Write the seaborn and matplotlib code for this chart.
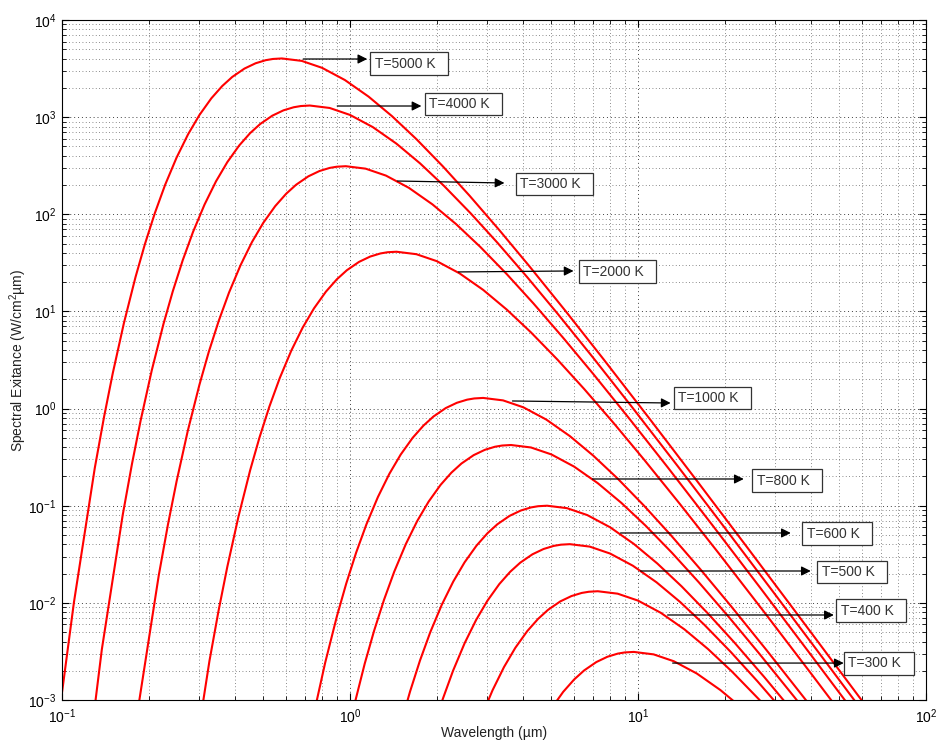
import pandas as pd
import matplotlib
matplotlib.use('Agg')
import matplotlib.pyplot as plt
import seaborn as sns
from matplotlib.ticker import LogLocator, NullFormatter

# Blackbody curves: wavelength (um) and spectral exitance (W/cm^2/um)
temps = [5000, 4000, 3000, 2000, 1000, 800, 600, 500, 400, 300]

wl_5000 = [0.09, 0.10, 0.11, 0.13, 0.14, 0.15, 0.164, 0.18, 0.194, 0.21, 0.228, 0.25, 0.274, 0.30, 0.33,
           0.36, 0.39, 0.43, 0.47, 0.51, 0.54, 0.58, 0.68, 0.80, 0.96, 1.16, 1.40, 1.70, 2.10, 2.60,
           3.30, 4.20, 5.60, 7.60, 11.0, 16.0, 24.0, 36.0, 60.0]
ex_5000 = [8.24e-5, 1.19e-3, 0.0101, 0.2455, 0.8241, 2.297, 7.561, 22.58, 49.22, 102.5, 200.5, 384.0,
           665.8, 1051, 1562, 2090, 2592, 3161, 3585, 3859, 3971, 4020, 3793, 3218, 2410, 1627, 1022,
           594.3, 312.0, 155.6, 68.71, 29.10, 10.12, 3.206, 0.777, 0.1811, 0.0369, 7.44e-3, 9.80e-4]

wl_4000 = [0.1125, 0.1375, 0.1625, 0.175, 0.1875, 0.205, 0.225, 0.2425, 0.2625, 0.285, 0.3125, 0.3425,
           0.375, 0.4125, 0.45, 0.4875, 0.5375, 0.5875, 0.6375, 0.675, 0.725, 0.85, 1.0, 1.2, 1.45,
           1.75, 2.125, 2.625, 3.25, 4.125, 5.25, 7.0, 9.5, 13.75, 20.0, 30.0, 45.0, 75.0]
ex_4000 = [2.70e-5, 3.313e-3, 0.0804, 0.2700, 0.7525, 2.478, 7.398, 16.13, 33.59, 65.70, 125.8, 218.2,
           344.4, 511.7, 684.7, 849.3, 1036, 1175, 1264, 1301, 1317, 1243, 1054, 789.7, 533.1, 334.7,
           194.7, 102.2, 50.97, 22.51, 9.533, 3.314, 1.050, 0.2546, 0.05933, 0.01209, 2.436e-3, 3.21e-4]

wl_3000 = [0.1833, 0.2167, 0.2333, 0.25, 0.2733, 0.30, 0.3233, 0.35, 0.38, 0.4167, 0.4567, 0.50, 0.55,
           0.60, 0.65, 0.7167, 0.7833, 0.85, 0.90, 0.9667, 1.133, 1.333, 1.60, 1.933, 2.333, 2.833,
           3.50, 4.333, 5.50, 7.0, 9.333, 12.67, 18.33, 26.67, 40.0, 60.0]
ex_3000 = [7.86e-4, 0.01909, 0.06408, 0.1786, 0.5879, 1.756, 3.828, 7.972, 15.59, 29.86, 51.77, 81.74,
           121.4, 162.5, 201.5, 245.8, 278.8, 300.1, 308.8, 312.6, 294.9, 250.2, 187.4, 126.5, 79.44,
           46.21, 24.26, 12.10, 5.342, 2.263, 0.7865, 0.2493, 0.06042, 0.01408, 2.869e-3, 5.78e-4]

wl_2000 = [0.275, 0.325, 0.35, 0.375, 0.41, 0.45, 0.485, 0.525, 0.57, 0.625, 0.685, 0.75, 0.825, 0.90,
           0.975, 1.075, 1.175, 1.275, 1.35, 1.45, 1.70, 2.0, 2.4, 2.9, 3.5, 4.25, 5.25, 6.5, 8.25,
           10.5, 14.0, 19.0, 27.5, 40.0, 60.0]
ex_2000 = [1.035e-4, 2.514e-3, 8.438e-3, 0.02352, 0.07743, 0.2312, 0.5040, 1.050, 2.053, 3.932, 6.817,
           10.76, 15.99, 21.40, 26.54, 32.37, 36.71, 39.51, 40.67, 41.16, 38.83, 32.95, 24.68, 16.66,
           10.46, 6.085, 3.194, 1.593, 0.7034, 0.2979, 0.1036, 0.03283, 7.955e-3, 1.854e-3, 3.78e-4]

wl_1000 = [0.65, 0.70, 0.75, 0.82, 0.90, 0.97, 1.05, 1.14, 1.25, 1.37, 1.5, 1.65, 1.8, 1.95, 2.15, 2.35,
           2.55, 2.70, 2.9, 3.4, 4.0, 4.8, 5.8, 7.0, 8.5, 10.5, 13.0, 16.5, 21.0, 28.0, 38.0, 55.0]
ex_1000 = [7.86e-5, 2.637e-4, 7.35e-4, 2.420e-3, 7.226e-3, 0.01575, 0.03281, 0.06416, 0.1229, 0.2131,
           0.3364, 0.4997, 0.6688, 0.8294, 1.012, 1.147, 1.235, 1.271, 1.287, 1.214, 1.030, 0.7713,
           0.5207, 0.3269, 0.1902, 0.09984, 0.04978, 0.02199, 9.311e-3, 3.237e-3, 1.026e-3, 2.49e-4]

wl_800 = [0.9375, 1.025, 1.125, 1.2125, 1.3125, 1.425, 1.5625, 1.7125, 1.875, 2.0625, 2.25, 2.4375,
          2.6875, 2.9375, 3.1875, 3.375, 3.625, 4.25, 5.0, 6.0, 7.25, 8.75, 10.625, 13.125, 16.25,
          20.625, 26.25, 35.0, 47.5]
ex_800 = [2.41e-4, 7.93e-4, 2.368e-3, 5.161e-3, 0.01075, 0.02102, 0.04027, 0.06981, 0.1102, 0.1637,
          0.2191, 0.2718, 0.3315, 0.3759, 0.4047, 0.4164, 0.4216, 0.3977, 0.3375, 0.2527, 0.1706,
          0.1071, 0.06232, 0.03272, 0.01631, 7.204e-3, 3.051e-3, 1.061e-3, 3.36e-4]

wl_600 = [1.3667, 1.5, 1.6167, 1.75, 1.9, 2.083, 2.2833, 2.5, 2.75, 3.0, 3.25, 3.583, 3.9167, 4.25, 4.5,
          4.833, 5.667, 6.667, 8.0, 9.667, 11.67, 14.17, 17.5, 21.67, 27.5, 35.0]
ex_600 = [1.88e-4, 5.62e-4, 1.225e-3, 2.551e-3, 4.989e-3, 9.556e-3, 0.01657, 0.02616, 0.03885, 0.05200,
          0.06449, 0.07866, 0.08921, 0.09603, 0.09882, 0.1000, 0.09438, 0.08008, 0.05998, 0.04049,
          0.02542, 0.01479, 7.763e-3, 3.871e-3, 1.710e-3, 7.24e-4]

wl_500 = [1.8, 1.94, 2.1, 2.28, 2.5, 2.74, 3.0, 3.3, 3.6, 3.9, 4.3, 4.7, 5.1, 5.4, 5.8, 6.8, 8.0, 9.6,
          11.6, 14.0, 17.0, 21.0, 26.0, 33.0]
ex_500 = [2.26e-4, 4.922e-4, 1.025e-3, 2.005e-3, 3.840e-3, 6.658e-3, 0.01051, 0.01562, 0.02090, 0.02592,
          0.03161, 0.03585, 0.03859, 0.03971, 0.04020, 0.03793, 0.03218, 0.02410, 0.01627, 0.01022,
          5.943e-3, 3.120e-3, 1.556e-3, 6.87e-4]

wl_400 = [2.625, 2.85, 3.125, 3.425, 3.75, 4.125, 4.5, 4.875, 5.375, 5.875, 6.375, 6.75, 7.25, 8.5,
          10.0, 12.0, 14.5, 17.5, 21.25, 26.25, 32.5]
ex_400 = [3.36e-4, 6.57e-4, 1.258e-3, 2.182e-3, 3.445e-3, 5.117e-3, 6.848e-3, 8.493e-3, 0.01036,
          0.01175, 0.01265, 0.01301, 0.01317, 0.01243, 0.01055, 7.898e-3, 5.332e-3, 3.348e-3,
          1.948e-3, 1.022e-3, 5.10e-4]

wl_300 = [4.167, 4.567, 5.0, 5.5, 6.0, 6.5, 7.167, 7.833, 8.5, 9.0, 9.667, 11.33, 13.33, 16.0, 19.33,
          23.33]
ex_300 = [2.99e-4, 5.18e-4, 8.17e-4, 1.214e-3, 1.625e-3, 2.015e-3, 2.458e-3, 2.788e-3, 3.001e-3,
          3.088e-3, 3.126e-3, 2.949e-3, 2.503e-3, 1.874e-3, 1.265e-3, 7.94e-4]

wavelengths = [wl_5000, wl_4000, wl_3000, wl_2000, wl_1000, wl_800, wl_600, wl_500, wl_400, wl_300]
exitances = [ex_5000, ex_4000, ex_3000, ex_2000, ex_1000, ex_800, ex_600, ex_500, ex_400, ex_300]

labels = ['T=%d K' % t for t in temps]

# Annotation layout (data coordinates): arrow tail on the curve, arrow tip, text box anchor
arrow_from = [(0.688, 3967), (0.903, 1302), (1.46, 220), (2.378, 25.5), (3.665, 1.197),
              (6.954, 0.1884), (8.70, 0.0524), (10.21, 0.02128), (12.67, 7.5e-3), (13.19, 2.4e-3)]
arrow_to = [(1.148, 3967), (1.770, 1302), (3.438, 210), (5.974, 26.1), (12.98, 1.141),
            (23.29, 0.1884), (33.92, 0.0524), (39.8, 0.02128), (47.86, 7.5e-3), (51.8, 2.4e-3)]
label_pos = [(1.22, 3566), (1.88, 1366), (3.90, 205), (6.46, 25.5), (13.8, 1.285),
             (25.8, 0.1816), (38.5, 0.0517), (43.4, 0.0208), (50.5, 8.34e-3), (53.8, 2.4e-3)]


def build_frame():
    rows = []
    for t, wl, ex in zip(temps, wavelengths, exitances):
        for w, e in zip(wl, ex):
            rows.append({'T': t, 'wavelength': w, 'exitance': e})
    return pd.DataFrame(rows)


def make_plot():
    sns.set_theme(style='ticks')
    plt.rcParams['font.family'] = ['Liberation Sans', 'DejaVu Sans']
    plt.rcParams['mathtext.fontset'] = 'custom'
    plt.rcParams['mathtext.rm'] = 'Liberation Sans'
    plt.rcParams['mathtext.it'] = 'Liberation Sans'

    df = build_frame()

    fig = plt.figure(figsize=(9.38, 7.45), dpi=100)
    ax = fig.add_axes([62 / 938, 1 - 700 / 745, 864 / 938, 680 / 745])
    ax.set_xscale('log')
    ax.set_yscale('log')

    sns.lineplot(data=df, x='wavelength', y='exitance', units='T', estimator=None, sort=False,
                 color='red', linewidth=1.5, ax=ax)

    ax.set_xlim(0.1, 100)
    ax.set_ylim(1e-3, 1e4)

    ax.xaxis.set_major_locator(LogLocator(base=10, numticks=10))
    ax.yaxis.set_major_locator(LogLocator(base=10, numticks=12))
    ax.xaxis.set_minor_locator(LogLocator(base=10, subs=range(2, 10), numticks=40))
    ax.yaxis.set_minor_locator(LogLocator(base=10, subs=range(2, 10), numticks=60))
    ax.xaxis.set_minor_formatter(NullFormatter())
    ax.yaxis.set_minor_formatter(NullFormatter())

    ax.grid(which='major', color='0.25', linestyle=(0, (1, 3)), linewidth=0.7)
    ax.grid(which='minor', color='0.4', linestyle=(0, (1, 3)), linewidth=0.6)
    ax.tick_params(which='both', direction='in', top=True, right=True, colors='black', labelsize=10)
    ax.tick_params(which='major', length=5, width=0.8)
    ax.tick_params(which='minor', length=3, width=0.6)
    ax.tick_params(axis='x', which='major', pad=5)
    ax.tick_params(axis='y', which='major', pad=4)
    for spine in ax.spines.values():
        spine.set_color('black')
        spine.set_linewidth(0.8)

    ax.set_xlabel('Wavelength (µm)', fontsize=10, color='#222222')
    ax.set_ylabel('Spectral Exitance (W/cm$^2$µm)', fontsize=10, color='#222222')
    ax.xaxis.set_label_coords(0.5, -0.038)
    ax.yaxis.set_label_coords(-0.038, 0.5)

    for lab, start, tip, pos in zip(labels, arrow_from, arrow_to, label_pos):
        ax.annotate('', xy=tip, xytext=start,
                    arrowprops=dict(arrowstyle='-|>', color='black', lw=0.9,
                                    mutation_scale=14, shrinkA=0, shrinkB=0))
        ax.text(pos[0], pos[1], lab + '  ', fontsize=10, color='#333333', ha='left', va='center',
                bbox=dict(boxstyle='square,pad=0.32', fc='white', ec='#333333', lw=0.9))

    fig.savefig('out.png', dpi=100)
    plt.close(fig)


if __name__ == '__main__':
    make_plot()
